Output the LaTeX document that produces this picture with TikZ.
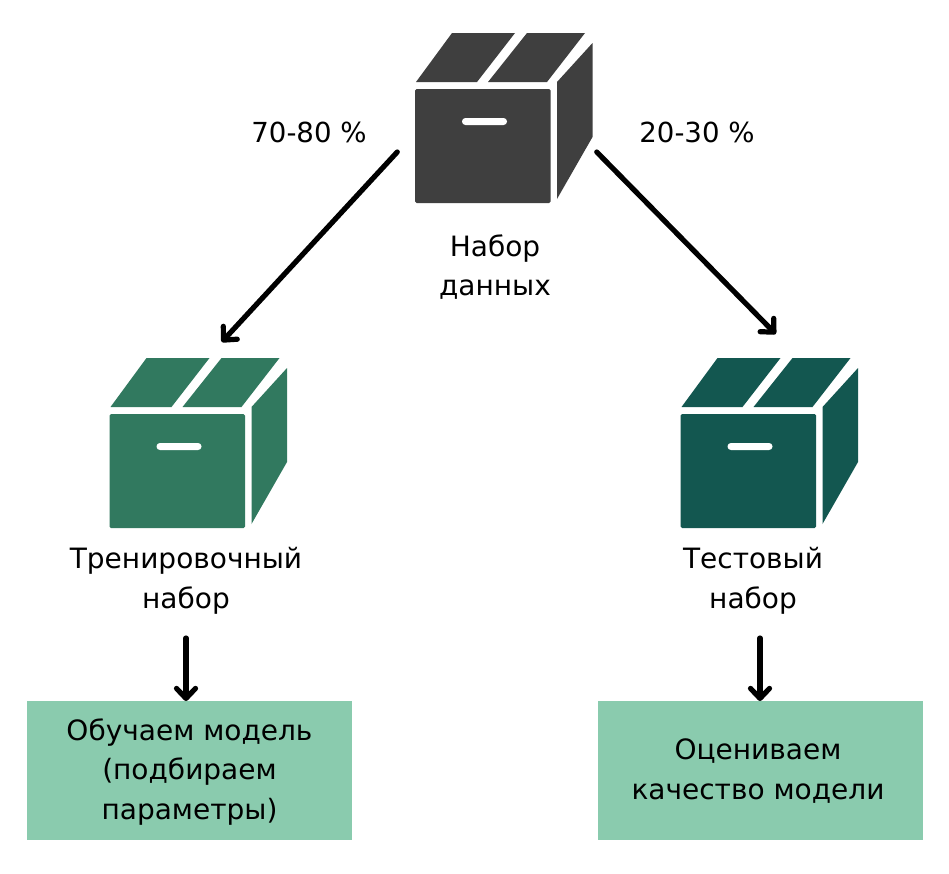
\documentclass[tikz,border=0pt]{standalone}
\usepackage{fontspec}
\setmainfont{DejaVu Sans}
\usetikzlibrary{arrows.meta}
\definecolor{cdark}{HTML}{3F3F3F}
\definecolor{cgreen}{HTML}{31795F}
\definecolor{cteal}{HTML}{135750}
\definecolor{cmint}{HTML}{8ACBAE}
\tikzset{
  arr/.style={line width=5.2pt,line cap=round,line join=round,-{Straight Barb[length=10pt,width=19pt,round,line width=5.2pt]}},
  txt/.style={align=center,inner sep=0pt,font=\fontsize{28}{39.5}\selectfont,text=black},
  pct/.style={anchor=base,inner sep=0pt,font=\fontsize{27.6}{30}\selectfont,text=black},
  panel/.style={fill=cmint,draw=none,minimum width=325pt,minimum height=139pt,inner sep=0pt},
  cratebox/.style={draw=none,fill=none,minimum width=177pt,minimum height=170pt,inner sep=0pt,outer sep=0pt}
}
\newcommand{\cratepic}[4]{%
 \begin{scope}[shift={(#2,#3)}]
  \fill[#4] (452,33)--(515,33)--(477,82)--(416,82)--cycle;
  \fill[#4] (527,33)--(585,33)--(547,82)--(488,82)--cycle;
  \fill[#4,rounded corners=1.5pt] (415,89)--(550.5,89)--(550.5,203)--(415,203)--cycle;
  \fill[#4] (592.5,43)--(592.5,137)--(557,199)--(557,82)--cycle;
  \fill[white,rounded corners=3.4pt] (462,118)--(507,118)--(507,125)--(462,125)--cycle;
  \node[cratebox] (#1) at (503.75,118) {};
 \end{scope}}
\begin{document}
\begin{tikzpicture}[x=1pt,y=-1pt]
\useasboundingbox (0,0) rectangle (949,873);
\fill[white] (0,0) rectangle (949,873);
\cratepic{databox}{0}{0}{cdark}
\cratepic{trainbox}{-305.5}{325}{cgreen}
\cratepic{testbox}{265.5}{325}{cteal}
\node[txt] (datalabel) at (495,267) {Набор\\данных};
\node[txt] (trainlabel) at (186,581) {Тренировочный\\набор};
\node[txt] (testlabel) at (753,581) {Тестовый\\набор};
\node[panel] (fit) at (189.5,770.5) {};
\node[panel] (eval) at (760,770.5) {};
\node[txt] (fittext) at (189.5,772) {Обучаем модель\\(подбираем\\параметры)};
\node[txt] (evaltext) at (758,771) {Оцениваем\\качество модели};
\node[pct] (leftpct) at (309,142) {70-80 \%};
\node[pct] (rightpct) at (697,142) {20-30 \%};
\coordinate (fittop) at (186,701);
\coordinate (evaltop) at (760,701);
\coordinate (trainfoot) at (186,638);
\coordinate (testfoot) at (760,638);
\draw[arr] ([xshift=-18pt,yshift=-34pt]databox.west) -- ([xshift=23.5pt,yshift=16pt]trainbox.north);
\draw[arr] ([xshift=4.5pt,yshift=-34pt]databox.east) -- ([xshift=6.5pt,yshift=24pt]testbox.north);
\draw[arr] (trainfoot) -- (fittop);
\draw[arr] (testfoot) -- (evaltop);
\end{tikzpicture}
\end{document}
